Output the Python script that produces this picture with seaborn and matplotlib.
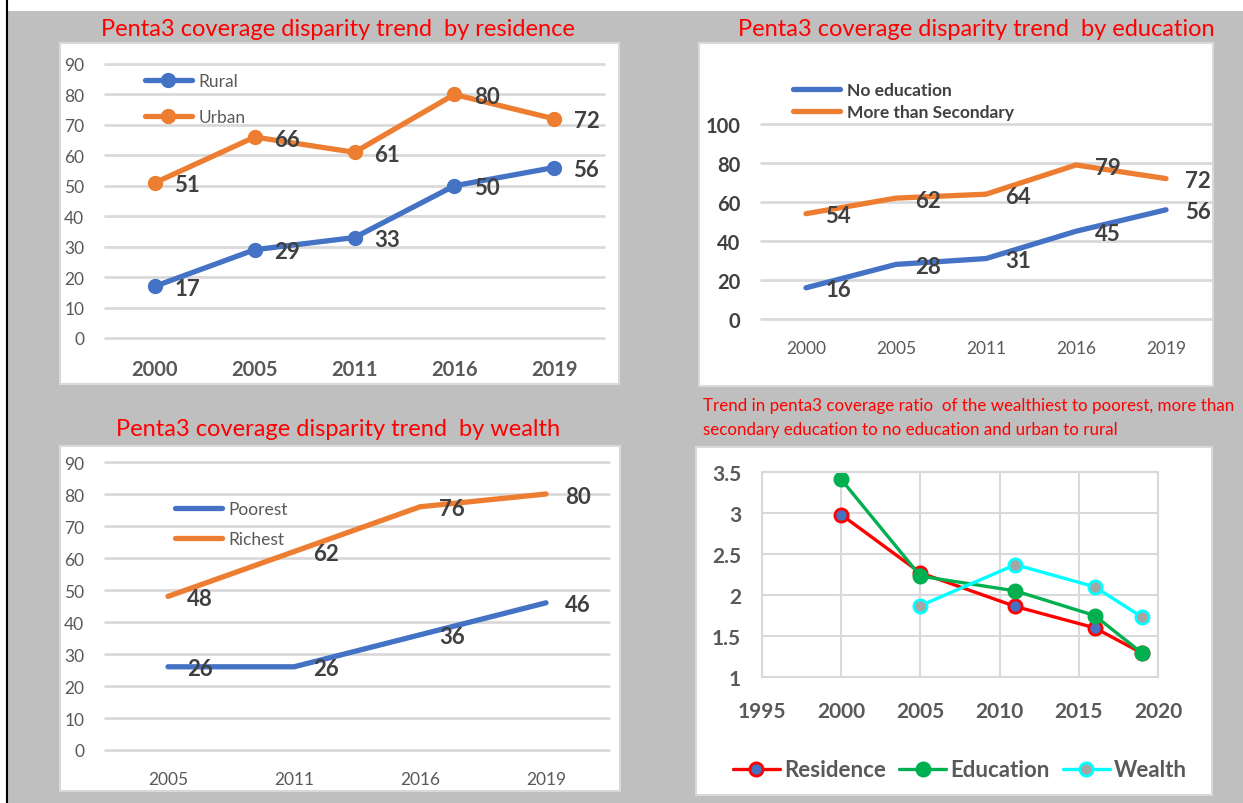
# Penta3 coverage disparity - 4 painéis
import pandas as pd
import matplotlib
matplotlib.use("Agg")
import matplotlib.pyplot as plt
from matplotlib.patches import Rectangle
from matplotlib.lines import Line2D
import seaborn as sns

sns.set_style("white")
plt.rcParams["font.family"] = ["Lato", "DejaVu Sans"]

# dados - residência
res_years = ["2000", "2005", "2011", "2016", "2019"]
rural = [17, 29, 33, 50, 56]
urban = [51, 66, 61, 80, 72]

# dados - educação
edu_years = ["2000", "2005", "2011", "2016", "2019"]
no_edu = [16, 28, 31, 45, 56]
more_sec = [54, 62, 64, 79, 72]

# dados - riqueza
wealth_years = ["2005", "2011", "2016", "2019"]
poorest = [26, 26, 36, 46]
richest = [48, 62, 76, 80]

# razões
ratio_years = [2000, 2005, 2011, 2016, 2019]
ratio_res = [2.98, 2.27, 1.86, 1.60, 1.29]
ratio_edu = [3.41, 2.23, 2.05, 1.75, 1.29]
wealth_ratio_years = [2005, 2011, 2016, 2019]
ratio_wealth = [1.87, 2.37, 2.10, 1.73]

BLUE = "#4472C4"
ORANGE = "#ED7D31"
GRID = "#D9D9D9"
TXT = "#595959"
LBL = "#404040"

W, H = 1243, 804
fig = plt.figure(figsize=(W / 100, H / 100), dpi=100, facecolor="#BFBFBF")


def rect(x0, y0, x1, y1, fc="white", ec=GRID, lw=1.5):
    fig.add_artist(Rectangle((x0 / W, 1 - y1 / H), (x1 - x0) / W, (y1 - y0) / H,
                             transform=fig.transFigure, fc=fc, ec=ec, lw=lw, zorder=0))


def axes_px(x0, y0, x1, y1):
    ax = fig.add_axes([x0 / W, 1 - y1 / H, (x1 - x0) / W, (y1 - y0) / H])
    ax.set_facecolor("none")
    for s in ax.spines.values():
        s.set_visible(False)
    return ax


# bordas da imagem
rect(0, 0, W, 12, ec="none", lw=0)
rect(0, 0, 6, H, ec="none", lw=0)
fig.add_artist(Line2D([7 / W, 7 / W], [0, 1], color="black", lw=1.5, transform=fig.transFigure))

# caixas brancas
rect(60, 44, 619, 385)
rect(699, 44, 1213, 387)
rect(60, 447, 620, 792)
rect(696, 448, 1212, 796)


def cat_panel(ax, cats, s1, s2, names, ymax, ystep, markers, tick_x_bold, tick_y_bold,
              leg_bold, leg_pos, leg_spacing, leg_color):
    pos = list(range(len(cats)))
    df = pd.DataFrame({"pos": pos * 2, "val": s1 + s2,
                       "serie": [names[0]] * len(cats) + [names[1]] * len(cats)})
    for name, col in zip(names, [BLUE, ORANGE]):
        d = df[df["serie"] == name]
        kw = dict(marker="o", markersize=10, markeredgecolor=col, markeredgewidth=1) if markers else {}
        sns.lineplot(data=d, x="pos", y="val", ax=ax, color=col, lw=3.8, label=name,
                     solid_capstyle="round", solid_joinstyle="round", **kw)
        for x, v in zip(d["pos"], d["val"]):
            ax.annotate(str(v), (x, v), xytext=(14, -1.5), textcoords="offset points",
                        ha="left", va="center", fontsize=16, fontweight="bold", color=LBL)
    ax.set_xlim(-0.5, len(cats) - 0.5)
    ax.set_ylim(0, ymax)
    ax.set_yticks(range(0, ymax + 1, ystep))
    ax.set_xticks(pos)
    ax.set_xticklabels(cats)
    ax.set_xlabel("")
    ax.set_ylabel("")
    ax.tick_params(length=0)
    ax.tick_params(axis="y", pad=15, labelsize=14.5 if tick_y_bold else 12.5,
                   labelcolor=LBL if tick_y_bold else TXT)
    ax.tick_params(axis="x", pad=15, labelsize=14.5 if tick_x_bold else 12.5, labelcolor=TXT)
    if tick_y_bold:
        for t in ax.get_yticklabels():
            t.set_fontweight("bold")
    if tick_x_bold:
        for t in ax.get_xticklabels():
            t.set_fontweight("bold")
    ax.yaxis.grid(True, color=GRID, lw=2)
    ax.xaxis.grid(False)
    ax.set_axisbelow(True)
    for gl in ax.get_ygridlines():
        gl.set_clip_on(False)
    lx, ly = leg_pos
    ax.legend(loc="center left", bbox_to_anchor=(lx / W, 1 - ly / H), bbox_transform=fig.transFigure,
              frameon=False, borderpad=0, borderaxespad=0, handlelength=2.7, handletextpad=0.4,
              labelspacing=leg_spacing, numpoints=1,
              prop={"size": 12.5, "weight": "bold" if leg_bold else "normal"}, labelcolor=leg_color)


# painel 1 - residência
ax1 = axes_px(105, 65, 604, 339)
cat_panel(ax1, res_years, rural, urban, ["Rural", "Urban"], 90, 10, True, True, False,
          False, (145, 100), 1.2, TXT)
fig.text(338 / W, 1 - 30 / H, "Penta3 coverage disparity trend  by residence", ha="center",
         va="center", fontsize=17, color="red")

# painel 2 - educação
ax2 = axes_px(761, 125, 1211, 320)
cat_panel(ax2, edu_years, no_edu, more_sec, ["No education", "More than Secondary"], 100, 20,
          False, False, True, True, (793, 102), 0.32, LBL)
fig.text(976 / W, 1 - 30 / H, "Penta3 coverage disparity trend  by education", ha="center",
         va="center", fontsize=17, color="red")

# painel 3 - riqueza
ax3 = axes_px(105, 463, 609, 751)
cat_panel(ax3, wealth_years, poorest, richest, ["Poorest", "Richest"], 90, 10, False, False, False,
          False, (175, 525), 0.84, TXT)
fig.text(338 / W, 1 - 430 / H, "Penta3 coverage disparity trend  by wealth", ha="center",
         va="center", fontsize=17, color="red")

# painel 4 - razões
ax4 = axes_px(762, 473, 1158, 678)
series4 = [
    ("Residence", ratio_years, ratio_res, "red", BLUE),
    ("Education", ratio_years, ratio_edu, "#00B050", "#00B050"),
    ("Wealth", wealth_ratio_years, ratio_wealth, "cyan", "#A5A5A5"),
]
for name, xs, ys, col, fill in series4:
    sns.lineplot(x=xs, y=ys, ax=ax4, color=col, lw=2.4, marker="o", markersize=9.5,
                 markerfacecolor=fill, markeredgecolor=col, markeredgewidth=2, label=name)
ax4.set_xlim(1995, 2020)
ax4.set_ylim(1, 3.5)
ax4.set_xticks(range(1995, 2021, 5))
ax4.set_yticks([1, 1.5, 2, 2.5, 3, 3.5])
ax4.set_yticklabels(["1", "1.5", "2", "2.5", "3", "3.5"])
ax4.grid(True, color=GRID, lw=1.5)
ax4.set_axisbelow(True)
for s in ax4.spines.values():
    s.set_visible(True)
    s.set_color(GRID)
    s.set_linewidth(1.5)
ax4.tick_params(length=0, labelsize=15, labelcolor=TXT)
ax4.tick_params(axis="y", pad=15)
ax4.tick_params(axis="x", pad=17)
for t in ax4.get_xticklabels() + ax4.get_yticklabels():
    t.set_fontweight("bold")
ax4.legend(loc="center", bbox_to_anchor=(960 / W, 1 - 771 / H), bbox_transform=fig.transFigure,
           ncol=3, frameon=False, borderpad=0, borderaxespad=0, handlelength=2.1,
           handletextpad=0.2, columnspacing=0.6, numpoints=1,
           prop={"size": 16, "weight": "bold"}, labelcolor=TXT)
fig.text(703 / W, 1 - 406 / H,
         "Trend in penta3 coverage ratio  of the wealthiest to poorest, more than",
         ha="left", va="center", fontsize=12.2, color="red")
fig.text(703 / W, 1 - 430 / H, "secondary education to no education and urban to rural",
         ha="left", va="center", fontsize=12.2, color="red")

fig.savefig("out.png", dpi=100, facecolor=fig.get_facecolor())
